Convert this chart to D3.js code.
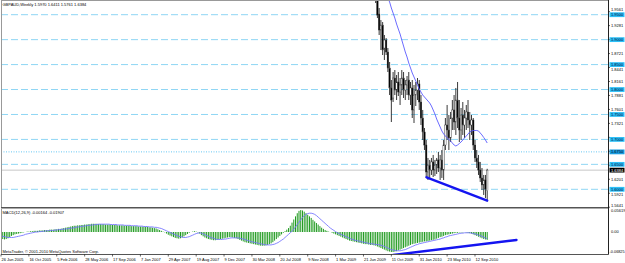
<!DOCTYPE html>
<html><head><meta charset="utf-8">
<script src="https://cdn.jsdelivr.net/npm/d3@7"></script>
<style>html,body{margin:0;padding:0;background:#fff;overflow:hidden}svg{display:block}text{font-family:"Liberation Sans",Arial,sans-serif}</style>
</head><body><svg id="c" width="625" height="263"></svg>
<script>
const symbolTitle = "GBPAUD,Weekly";
const lastOHLC = ["1.5970", "1.6411", "1.5761", "1.6384"];
const dateLabels = ["26 Jun 2005","16 Oct 2005","5 Feb 2006","28 May 2006","17 Sep 2006","7 Jan 2007","29 Apr 2007","19 Aug 2007","9 Dec 2007","30 Mar 2008","20 Jul 2008","9 Nov 2008","1 Mar 2009","21 Jun 2009","11 Oct 2009","31 Jan 2010","23 May 2010","12 Sep 2010"];
const barsPerDateLabel = 16;
const firstCandle = 215;
const opens  = [1.9994,1.9794,1.9513,1.9193,1.9293,1.8832,1.8992,1.8752,1.8431,1.8031,1.7830,1.8231,1.7990,1.8151,1.7950,1.8091,1.8231,1.7990,1.8091,1.8191,1.7890,1.8031,1.7590,1.7890,1.7990,1.8111,1.7750,1.7429,1.7149,1.6888,1.6347,1.6487,1.6387,1.6548,1.6387,1.6487,1.6588,1.6427,1.6588,1.6387,1.6888,1.7289,1.7189,1.7029,1.7429,1.7590,1.7349,1.7790,1.7429,1.7189,1.7489,1.7289,1.7429,1.7550,1.7389,1.7289,1.7389,1.6888,1.6628,1.6548,1.6387,1.6227,1.6087,1.6187,1.5970];
const highs  = [2.0195,1.9834,1.9634,1.9393,1.9353,1.9093,1.9032,1.8832,1.8552,1.8191,1.8351,1.8391,1.8291,1.8351,1.8231,1.8391,1.8351,1.8191,1.8271,1.8351,1.8151,1.8191,1.8091,1.8151,1.8231,1.8191,1.7890,1.7590,1.7229,1.6988,1.6628,1.6588,1.6628,1.6688,1.6588,1.6628,1.6748,1.6688,1.6788,1.6988,1.7429,1.7690,1.7489,1.7550,1.7790,1.7890,1.8031,1.8151,1.7790,1.7630,1.7750,1.7590,1.7690,1.7790,1.7550,1.7489,1.7429,1.6988,1.6788,1.6688,1.6548,1.6427,1.6287,1.6287,1.6411];
const lows   = [1.9734,1.9433,1.9093,1.8792,1.8692,1.8592,1.8692,1.8351,1.7890,1.7349,1.7750,1.7890,1.7790,1.7870,1.7690,1.7890,1.7830,1.7790,1.7890,1.7790,1.7690,1.7429,1.7329,1.7670,1.7790,1.7590,1.7289,1.6988,1.6788,1.6227,1.6187,1.6227,1.6287,1.6247,1.6267,1.6307,1.6347,1.6187,1.6227,1.6187,1.6788,1.6988,1.6788,1.6948,1.7189,1.7189,1.7089,1.7229,1.6948,1.6988,1.7089,1.7029,1.7189,1.7229,1.6988,1.7089,1.6788,1.6548,1.6427,1.6287,1.6147,1.5986,1.5886,1.5826,1.5761];
const closes = [1.9794,1.9493,1.9193,1.9293,1.8792,1.8992,1.8752,1.8431,1.8031,1.7790,1.8231,1.7990,1.8151,1.7950,1.8091,1.8231,1.7990,1.8091,1.8191,1.7890,1.8031,1.7590,1.7890,1.7990,1.8111,1.7750,1.7429,1.7149,1.6888,1.6347,1.6487,1.6387,1.6548,1.6387,1.6487,1.6588,1.6427,1.6588,1.6387,1.6888,1.7289,1.7189,1.7029,1.7429,1.7590,1.7349,1.7790,1.7429,1.7189,1.7489,1.7289,1.7429,1.7550,1.7389,1.7289,1.7389,1.6888,1.6628,1.6548,1.6387,1.6227,1.6087,1.6187,1.6006,1.6384];
const firstMA = 216;
const maValues = [2.0596,2.0435,2.0295,2.0175,2.0055,1.9934,1.9834,1.9754,1.9634,1.9533,1.9433,1.9313,1.9213,1.9113,1.8992,1.8872,1.8752,1.8652,1.8532,1.8431,1.8331,1.8251,1.8171,1.8091,1.8010,1.7950,1.7890,1.7850,1.7810,1.7770,1.7730,1.7670,1.7590,1.7509,1.7409,1.7329,1.7249,1.7169,1.7109,1.7069,1.7029,1.6999,1.6968,1.6928,1.6888,1.6868,1.6888,1.6918,1.6948,1.6988,1.7029,1.7069,1.7109,1.7149,1.7169,1.7179,1.7179,1.7179,1.7169,1.7129,1.7089,1.7039,1.6988,1.6928];
const levelLines = [1.95, 1.90, 1.85, 1.80, 1.75, 1.70, 1.65, 1.60];
const levelLabels = ["1.9500","1.9000","1.8500","1.8000","1.7500","1.7000","1.6500","1.6000"];
const dottedLevel = 1.675;
const dottedLabel = "1.6750";
const currentPrice = 1.6384;
const priceTicks = [1.9561,1.9281,1.9001,1.8721,1.8441,1.8161,1.7881,1.7601,1.7321,1.7041,1.6761,1.6481,1.6201,1.5921,1.5641];
const macdMain = [-.016,-.018,-.019,-.018,-.016,-.013,-.010,
 -.008,-.006,-.005,-.004,-.003,-.002,-.001,0,.001,.001,.002,.002,.003,.003,
 .003,.004,.004,.004,.005,.005,.005,.006,.006,.006,.007,.007,.008,.008,.009,.010,.011,
 .012,.013,.014,.015,.016,.016,.017,.017,.018,.018,.019,.019,
 .020,.020,.021,.021,.021,.021,.020,.020,.020,.020,.019,.019,.019,
 .019,.018,.018,.018,.017,.017,.017,.017,.016,.016,.016,.016,.015,.015,.015,.015,.014,.014,.014,.013,.013,.013,.012,.012,.011,.010,.009,
 .007,.005,.003,.001,
 -.001,-.004,-.007,-.009,-.011,-.013,-.015,-.016,-.017,-.016,-.014,-.011,-.008,
 -.005,-.002,0,.001,.002,.001,-.001,-.004,-.008,
 -.011,-.014,-.016,-.018,-.019,-.020,-.021,-.021,-.020,-.019,-.018,-.017,-.016,-.015,
 -.014,-.013,-.013,-.014,-.015,-.016,-.018,-.020,
 -.022,-.024,-.026,-.027,-.028,-.029,-.030,-.031,-.032,-.033,-.034,-.035,-.035,-.035,-.034,-.033,-.031,-.029,-.026,-.022,-.018,
 -.014,-.010,-.006,-.002,.002,.006,.010,.016,.024,
 .032,.040,.048,.054,.056,.055,
 .052,.048,.044,.040,.036,.031,.027,.023,.019,.015,
 .011,.008,.005,.003,.001,0,-.002,
 -.004,-.006,-.008,-.010,-.012,-.014,-.016,-.018,-.020,-.022,-.023,-.024,-.025,-.026,
 -.027,-.028,-.029,-.030,-.031,-.031,-.032,-.033,-.033,-.034,-.035,-.037,-.039,-.041,-.043,-.045,-.047,
 -.049,-.050,-.051,-.051,-.050,-.049,-.047,-.045,
 -.043,-.041,-.039,-.037,-.035,-.033,-.031,-.030,-.029,-.028,-.027,-.026,-.025,-.024,-.024,-.023,-.022,-.021,-.020,
 -.019,-.017,-.015,-.013,-.012,-.010,-.008,-.007,-.006,-.005,-.004,
 -.003,-.002,-.002,-.001,-.001,-.001,0,-.001,-.002,-.003,-.004,-.006,
 -.008,-.010,-.012,-.014,-.016,-.018,-.019,-.020];
const macdSignal = [-.010,-.011,-.012,-.013,-.014,-.014,-.014,
 -.014,-.013,-.012,-.011,-.010,-.009,-.008,-.006,-.005,-.004,-.003,-.002,-.001,0,
 0,.001,.001,.002,.002,.003,.003,.004,.004,.004,.005,.005,.006,.006,.007,.007,.008,
 .008,.009,.010,.010,.011,.012,.013,.013,.014,.015,.015,.016,
 .017,.017,.018,.018,.019,.019,.020,.020,.020,.020,.020,.020,.020,
 .019,.019,.019,.019,.018,.018,.018,.018,.017,.017,.017,.017,.016,.016,.016,.016,.015,.015,.015,.014,.014,.014,.013,.013,.013,.012,.012,
 .011,.010,.009,.007,
 .005,.003,.001,-.001,-.003,-.005,-.007,-.009,-.011,-.012,-.013,-.014,-.014,
 -.013,-.012,-.010,-.008,-.006,-.004,-.003,-.002,-.003,
 -.005,-.007,-.009,-.011,-.013,-.015,-.016,-.018,-.019,-.019,-.019,-.019,-.018,-.018,
 -.017,-.016,-.015,-.015,-.015,-.015,-.015,-.016,
 -.017,-.018,-.019,-.021,-.022,-.024,-.025,-.026,-.027,-.028,-.029,-.030,-.031,-.032,-.033,-.033,-.033,-.033,-.032,-.031,-.029,
 -.027,-.024,-.021,-.018,-.014,-.010,-.006,-.002,.002,
 .007,.013,.019,.025,.031,.037,
 .042,.045,.047,.048,.048,.047,.045,.042,.038,.034,
 .030,.026,.022,.018,.014,.010,.007,
 .004,.001,-.002,-.004,-.006,-.008,-.010,-.012,-.014,-.016,-.018,-.019,-.021,-.022,
 -.023,-.024,-.025,-.026,-.027,-.028,-.029,-.030,-.030,-.031,-.032,-.032,-.033,-.034,-.035,-.037,-.039,
 -.041,-.043,-.045,-.046,-.047,-.048,-.048,-.048,
 -.047,-.046,-.045,-.043,-.041,-.039,-.037,-.035,-.033,-.032,-.030,-.029,-.028,-.027,-.026,-.025,-.024,-.023,-.022,
 -.021,-.020,-.019,-.018,-.016,-.015,-.013,-.012,-.010,-.009,-.008,
 -.007,-.006,-.005,-.004,-.003,-.003,-.002,-.002,-.002,-.002,-.003,-.004,
 -.005,-.006,-.008,-.009,-.011,-.013,-.015,-.017];
const macdTitle = "MACD(12,26,9) -0.00164 -0.01907";
const macdTickValues = [0.05619, 0, -0.06825];
const macdTickLabels = ["0.05619", "0.00", "-0.06825"];
const priceTrend = [[244.2, 1.6241], [279.0, 1.5772]];
const macdTrend = [[225.1, -0.0587], [295.8, -0.0204]];
const copyright = "MetaTrader, \u00a9 2001-2010 MetaQuotes Software Corp.";

const svg = d3.select("#c");
const W = 625, H = 263, axisX = 608.5;
const mainTop = 1, mainBot = 207.5, macdTop = 208.5, macdBot = 254.5;
const x = d3.scaleLinear().domain([0, 272]).range([1, 475]);
const y = d3.scaleLinear().domain([1.6, 1.95]).range([189.3, 14.7]);
const ym = d3.scaleLinear().domain([0, 0.05619]).range([232, 210]);
const FS = 4;

svg.append("rect").attr("width", W).attr("height", H).attr("fill", "#fff");
const defs = svg.append("defs");
defs.append("clipPath").attr("id", "cm").append("rect").attr("x", 1).attr("y", mainTop).attr("width", axisX - 1).attr("height", mainBot - mainTop);
defs.append("clipPath").attr("id", "cd").append("rect").attr("x", 1).attr("y", macdTop).attr("width", axisX - 1).attr("height", macdBot - macdTop);

const gm = svg.append("g").attr("clip-path", "url(#cm)");
gm.selectAll("line.lvl").data(levelLines).join("line")
  .attr("x1", 1).attr("x2", axisX).attr("y1", d => y(d)).attr("y2", d => y(d))
  .attr("stroke", "#8fd6f4").attr("stroke-width", 1).attr("stroke-dasharray", "7,3");
gm.append("line").attr("x1", 1).attr("x2", axisX).attr("y1", y(dottedLevel)).attr("y2", y(dottedLevel))
  .attr("stroke", "#3fb8ee").attr("stroke-width", 0.8).attr("stroke-dasharray", "1,1.5");
gm.append("line").attr("x1", 1).attr("x2", axisX).attr("y1", y(currentPrice)).attr("y2", y(currentPrice))
  .attr("stroke", "#c8c8c8").attr("stroke-width", 1);

const candles = opens.map((o, k) => ({i: firstCandle + k, o, h: highs[k], l: lows[k], c: closes[k]}));
gm.selectAll("line.wick").data(candles).join("line")
  .attr("x1", d => x(d.i)).attr("x2", d => x(d.i)).attr("y1", d => y(d.h)).attr("y2", d => y(d.l))
  .attr("stroke", "#222").attr("stroke-width", 0.9);
gm.selectAll("rect.body").data(candles).join("rect")
  .attr("x", d => x(d.i) - 0.75).attr("width", 1.5)
  .attr("y", d => y(Math.max(d.o, d.c))).attr("height", d => Math.max(0.6, Math.abs(y(d.o) - y(d.c))))
  .attr("fill", d => d.c >= d.o ? "#fff" : "#000").attr("stroke", "#333").attr("stroke-width", 0.4);

gm.append("path").datum(maValues)
  .attr("d", d3.line().x((d, k) => x(firstMA + k)).y(d => y(d)))
  .attr("fill", "none").attr("stroke", "#5a5aff").attr("stroke-width", 0.9);

svg.append("line").attr("x1", x(priceTrend[0][0])).attr("y1", y(priceTrend[0][1]))
  .attr("x2", x(priceTrend[1][0])).attr("y2", y(priceTrend[1][1]))
  .attr("stroke", "#1414f0").attr("stroke-width", 2.4).attr("stroke-linecap", "round");

const gd = svg.append("g").attr("clip-path", "url(#cd)");
gd.selectAll("rect.h").data(macdMain).join("rect")
  .attr("x", (d, k) => x(k) - 0.5).attr("width", 1)
  .attr("y", d => Math.min(ym(d), ym(0))).attr("height", d => Math.abs(ym(d) - ym(0)))
  .attr("fill", "#1f9a1f");
gd.append("path").datum(macdSignal)
  .attr("d", d3.line().x((d, k) => x(k)).y(d => ym(d)))
  .attr("fill", "none").attr("stroke", "#7777ff").attr("stroke-width", 0.9);
gd.append("line").attr("x1", x(macdTrend[0][0])).attr("y1", ym(macdTrend[0][1]))
  .attr("x2", x(macdTrend[1][0])).attr("y2", ym(macdTrend[1][1]))
  .attr("stroke", "#1414f0").attr("stroke-width", 2.4).attr("stroke-linecap", "round");

const frame = svg.append("g").attr("stroke", "#000").attr("fill", "none");
frame.append("line").attr("x1", 1.5).attr("x2", 1.5).attr("y1", 0).attr("y2", macdBot).attr("stroke", "#999");
frame.append("line").attr("x1", 1).attr("x2", axisX).attr("y1", 0.5).attr("y2", 0.5).attr("stroke", "#999");
frame.append("line").attr("x1", 1).attr("x2", axisX).attr("y1", mainBot).attr("y2", mainBot).attr("stroke", "#555");
frame.append("line").attr("x1", 1).attr("x2", axisX).attr("y1", macdTop).attr("y2", macdTop).attr("stroke", "#aaa");
frame.append("line").attr("x1", 1).attr("x2", axisX).attr("y1", macdBot).attr("y2", macdBot).attr("stroke", "#555");
frame.append("line").attr("x1", axisX).attr("x2", axisX).attr("y1", 0).attr("y2", macdBot).attr("stroke", "#222");

const boxes = levelLines.map((v, k) => ({v, t: levelLabels[k], bg: "#2cc0f8", fg: "#003"}))
  .concat([{v: dottedLevel, t: dottedLabel, bg: "#1a9de0", fg: "#001"}, {v: currentPrice, t: lastOHLC[3], bg: "#000", fg: "#fff"}]);
const visibleTicks = priceTicks.filter(p => boxes.every(b => Math.abs(y(b.v) - y(p)) > 2.6));
function tickTextY(p) {
  let ty = y(p);
  boxes.forEach(b => {
    const by = y(b.v), d = ty - by;
    if (Math.abs(d) < 5) ty = by + (d < 0 ? -5 : 5);
  });
  return Math.min(ty, 205.5);
}

const ax = svg.append("g").attr("font-size", FS);
ax.selectAll("line.pt").data(priceTicks).join("line")
  .attr("x1", axisX).attr("x2", axisX + 1.5).attr("y1", d => y(d)).attr("y2", d => y(d)).attr("stroke", "#000").attr("stroke-width", 0.6);
ax.selectAll("text.pt").data(visibleTicks).join("text")
  .attr("x", 611).attr("y", d => tickTextY(d) + 1.3).text(d => d.toFixed(4)).attr("fill", "#000");
const bx = ax.selectAll("g.box").data(boxes).join("g");
bx.append("rect").attr("x", 609.5).attr("width", 15).attr("y", d => y(d.v) - 2.4).attr("height", 4.8).attr("fill", d => d.bg);
bx.append("text").attr("x", 611).attr("y", d => y(d.v) + 1.4).attr("fill", d => d.fg).text(d => d.t);

ax.selectAll("text.mt").data(macdTickValues).join("text")
  .attr("x", (d, k) => k === 2 ? 609.6 : 611).attr("font-size", (d, k) => k === 2 ? 3.8 : FS)
  .attr("y", (d, k) => [212.3, ym(0) + 1.4, 253.2][k]).text((d, k) => macdTickLabels[k]);

ax.append("text").attr("x", 2.5).attr("y", 6.2).text(symbolTitle + "  " + lastOHLC.join(" "));
ax.append("text").attr("x", 2.5).attr("y", 214.2).text(macdTitle);
ax.append("text").attr("x", 2.5).attr("y", 253).text(copyright);

const dl = svg.append("g").attr("font-size", FS);
dl.selectAll("text").data(dateLabels).join("text")
  .attr("x", (d, k) => x(k * barsPerDateLabel) + 0.5).attr("y", 260.8).text(d => d);
dl.selectAll("line").data(dateLabels).join("line")
  .attr("x1", (d, k) => x(k * barsPerDateLabel)).attr("x2", (d, k) => x(k * barsPerDateLabel))
  .attr("y1", macdBot).attr("y2", macdBot + 2).attr("stroke", "#000").attr("stroke-width", 0.6);
</script></body></html>
